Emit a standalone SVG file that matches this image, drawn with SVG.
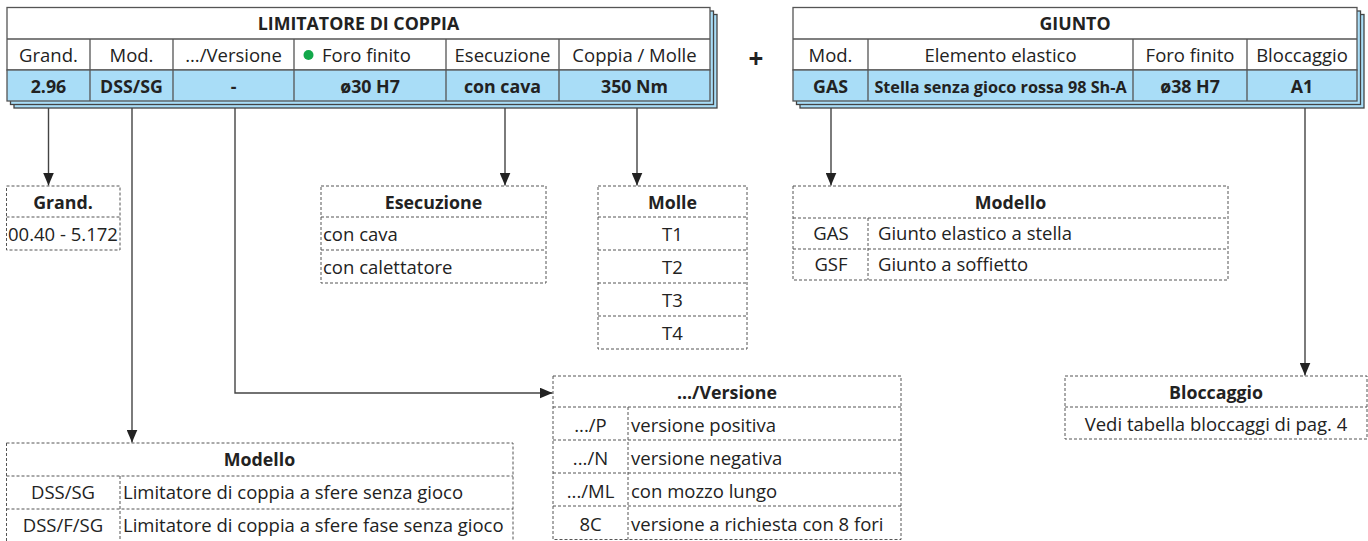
<svg xmlns="http://www.w3.org/2000/svg" width="1368" height="541" viewBox="0 0 1368 541">
<defs>
<style>
text{font-family:"Open Sans","Noto Sans","Liberation Sans",sans-serif;font-size:18.5px;fill:#222}
.b{font-weight:bold;font-size:17.8px}
.c{text-anchor:middle}
.tb{fill:#fff;stroke:#555;stroke-width:1.3}
.blue{fill:#a9ddf7;stroke:#555;stroke-width:1.3}
.sh{fill:#a9ddf7;stroke:#444;stroke-width:1.3}
.ln{stroke:#555;stroke-width:1.3;fill:none}
.d{fill:none;stroke:#555;stroke-width:1;stroke-dasharray:3 2}
.con{stroke:#444;stroke-width:1.4;fill:none;marker-end:url(#ah)}
</style>
<marker id="ah" markerWidth="13" markerHeight="11" refX="13" refY="5.5" orient="auto" markerUnits="userSpaceOnUse">
<path d="M0,0 L13,5.5 L0,11 Z" fill="#222"/>
</marker>
</defs>
<rect width="1368" height="541" fill="#fff"/>

<g id="connectors">
<path class="con" d="M48.5,108 V185.5"/>
<path class="con" d="M132,108 V442.5"/>
<path class="con" d="M235,108 V393 H552.5"/>
<path class="con" d="M505,108 V185.5"/>
<path class="con" d="M637,108 V185.5"/>
<path class="con" d="M831,108 V185.5"/>
<path class="con" d="M1305,108 V375.5"/>
</g>

<g id="limitatore">
<rect class="sh" x="14" y="14.5" width="703" height="93.5"/>
<rect class="sh" x="10.5" y="11" width="703" height="93.5"/>
<rect class="tb" x="7" y="7.5" width="703" height="62.5"/>
<rect class="blue" x="7" y="70" width="703" height="31"/>
<path class="ln" d="M7,39 H710 M90,39 V101 M173,39 V101 M294,39 V101 M446,39 V101 M559,39 V101"/>
<text class="b c" x="358.5" y="29.5">LIMITATORE DI COPPIA</text>
<text class="c" x="48.5" y="61.5">Grand.</text>
<text class="c" x="131.5" y="61.5">Mod.</text>
<text class="c" x="233.5" y="61.5">.../Versione</text>
<circle cx="308.5" cy="55" r="5" fill="#12a84a"/>
<text x="322" y="61.5">Foro finito</text>
<text class="c" x="502.5" y="61.5">Esecuzione</text>
<text class="c" x="634.5" y="61.5">Coppia / Molle</text>
<text class="b c" x="48.5" y="92.5">2.96</text>
<text class="b c" x="131.5" y="92.5">DSS/SG</text>
<text class="b c" x="233.5" y="92.5">-</text>
<text class="b c" x="370" y="92.5">ø30 H7</text>
<text class="b c" x="502.5" y="92.5">con cava</text>
<text class="b c" x="634.5" y="92.5">350 Nm</text>
</g>

<g id="plus">
<text class="b c" x="756" y="68" style="font-size:26px">+</text>
</g>

<g id="giunto">
<rect class="sh" x="800" y="14.5" width="564" height="93.5"/>
<rect class="sh" x="796.5" y="11" width="564" height="93.5"/>
<rect class="tb" x="793" y="7.5" width="564" height="62.5"/>
<rect class="blue" x="793" y="70" width="564" height="31"/>
<path class="ln" d="M793,39 H1357 M868,39 V101 M1133,39 V101 M1247,39 V101"/>
<text class="b c" x="1075" y="29.5">GIUNTO</text>
<text class="c" x="830.5" y="61.5">Mod.</text>
<text class="c" x="1000.5" y="61.5">Elemento elastico</text>
<text class="c" x="1190" y="61.5">Foro finito</text>
<text class="c" x="1302" y="61.5">Bloccaggio</text>
<text class="b c" x="830.5" y="92.5">GAS</text>
<text class="b c" x="1000.5" y="92.5" style="font-size:16.2px">Stella senza gioco rossa 98 Sh-A</text>
<text class="b c" x="1190" y="92.5">ø38 H7</text>
<text class="b c" x="1302" y="92.5">A1</text>
</g>

<g id="grand-box">
<rect class="d" x="6.5" y="186" width="113.5" height="64"/>
<path class="d" d="M6.5,217 H120"/>
<text class="b c" x="63" y="208.5">Grand.</text>
<text class="c" x="63" y="240.5">00.40 - 5.172</text>
</g>

<g id="esecuzione-box">
<rect class="d" x="321" y="186" width="225" height="97"/>
<path class="d" d="M321,217 H546 M321,250 H546"/>
<text class="b c" x="433.5" y="208.5">Esecuzione</text>
<text x="323" y="240.5">con cava</text>
<text x="323" y="273.5">con calettatore</text>
</g>

<g id="molle-box">
<rect class="d" x="598" y="186" width="149" height="163"/>
<path class="d" d="M598,217 H747 M598,250 H747 M598,283 H747 M598,316 H747"/>
<text class="b c" x="672.5" y="208.5">Molle</text>
<text class="c" x="672.5" y="240.5">T1</text>
<text class="c" x="672.5" y="273.5">T2</text>
<text class="c" x="672.5" y="306.5">T3</text>
<text class="c" x="672.5" y="339.5">T4</text>
</g>

<g id="modello-giunto-box">
<rect class="d" x="793" y="186" width="435" height="94"/>
<path class="d" d="M793,218 H1228 M793,249 H1228 M868,218 V280"/>
<text class="b c" x="1010.5" y="208.5">Modello</text>
<text class="c" x="831" y="240">GAS</text>
<text x="878" y="240">Giunto elastico a stella</text>
<text class="c" x="831" y="271">GSF</text>
<text x="878" y="271">Giunto a soffietto</text>
</g>

<g id="versione-box">
<rect class="d" x="553" y="376" width="348" height="163.5"/>
<path class="d" d="M553,407 H901 M553,440 H901 M553,473 H901 M553,506 H901 M628,407 V539.5"/>
<text class="b c" x="727" y="398.5">.../Versione</text>
<text class="c" x="590.5" y="431.5">.../P</text>
<text x="631" y="431.5">versione positiva</text>
<text class="c" x="590.5" y="464.5">.../N</text>
<text x="631" y="464.5">versione negativa</text>
<text class="c" x="590.5" y="497.5">.../ML</text>
<text x="631" y="497.5">con mozzo lungo</text>
<text class="c" x="590.5" y="530.5">8C</text>
<text x="631" y="530.5">versione a richiesta con 8 fori</text>
</g>

<g id="bloccaggio-box">
<rect class="d" x="1065" y="376" width="302" height="63"/>
<path class="d" d="M1065,407 H1367"/>
<text class="b c" x="1216" y="398.5">Bloccaggio</text>
<text class="c" x="1216" y="430.5">Vedi tabella bloccaggi di pag. 4</text>
</g>

<g id="modello-limitatore-box">
<rect class="d" x="6.5" y="443" width="506.5" height="100"/>
<path class="d" d="M6.5,476 H513 M6.5,509 H513 M120,476 V543"/>
<text class="b c" x="259.5" y="465.5">Modello</text>
<text class="c" x="63" y="498.5">DSS/SG</text>
<text x="123" y="498.5">Limitatore di coppia a sfere senza gioco</text>
<text class="c" x="63" y="531.5">DSS/F/SG</text>
<text x="123" y="531.5">Limitatore di coppia a sfere fase senza gioco</text>
</g>
</svg>
